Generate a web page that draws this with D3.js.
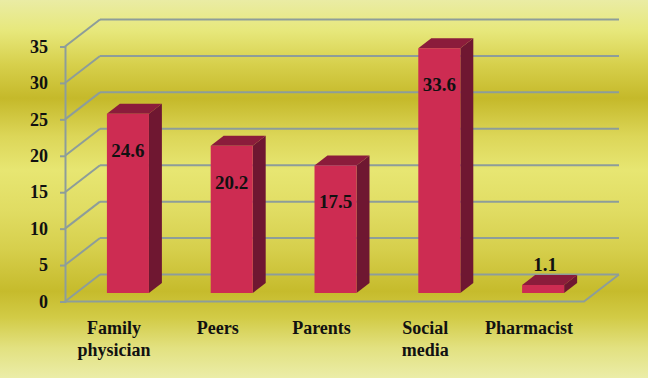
<!DOCTYPE html>
<html>
<head>
<meta charset="utf-8">
<script src="https://cdn.jsdelivr.net/npm/d3@7"></script>
<style>
  html, body { margin: 0; padding: 0; background: #e6e67a; }
  svg { display: block; }
</style>
</head>
<body>
<svg id="chart" width="648" height="378"></svg>
<script>
// ---- data ----
const categories = ["Family physician", "Peers", "Parents", "Social media", "Pharmacist"];
const categoryLines = [["Family", "physician"], ["Peers"], ["Parents"], ["Social", "media"], ["Pharmacist"]];
const values = [24.6, 20.2, 17.5, 33.6, 1.1];
const valueLabels = ["24.6", "20.2", "17.5", "33.6", "1.1"];
const yTicks = [0, 5, 10, 15, 20, 25, 30, 35];

// ---- layout ----
const W = 648, H = 378;
const FONT = '"Liberation Serif"';
const svg = d3.select("#chart");

// 3D depth vector (full depth of the plot box)
const DX = 35, DY = -27;
const barF0 = 0.315, barDepth = 0.37;

const x = d3.scaleBand().domain(categories).range([65, 584]).padding(0);
const y = d3.scaleLinear().domain([0, 35]).range([301.5, 46.5]);
const barW = x.bandwidth() * 0.405;

// background gradient
const defs = svg.append("defs");
const bg = defs.append("linearGradient").attr("id", "bg").attr("x1", 0).attr("y1", 0).attr("x2", 0).attr("y2", 1);
[
  [0.00, "#eaeca4"], [0.08, "#e7e87c"], [0.17, "#d7d04c"], [0.26, "#c5b92a"],
  [0.36, "#dcd658"], [0.45, "#e7e672"], [0.56, "#e0dc62"], [0.66, "#d6cf4c"],
  [0.77, "#c6bb2c"], [0.84, "#d2cb46"], [0.92, "#e2e180"], [1.00, "#ebeda8"]
].forEach(([o, c]) => bg.append("stop").attr("offset", o).attr("stop-color", c));
svg.append("rect").attr("width", W).attr("height", H).attr("fill", "url(#bg)");

const gridColor = "#8d9d9a";
const g = svg.append("g");

// back wall gridlines + left wall diagonals
const x0 = x.range()[0], x1 = x.range()[1];
g.selectAll("line.back").data(yTicks).join("line")
  .attr("x1", x0 + DX).attr("x2", x1 + DX)
  .attr("y1", d => y(d) + DY).attr("y2", d => y(d) + DY)
  .attr("stroke", gridColor).attr("stroke-width", 2);
g.selectAll("line.side").data(yTicks).join("line")
  .attr("x1", x0).attr("x2", x0 + DX)
  .attr("y1", d => y(d)).attr("y2", d => y(d) + DY)
  .attr("stroke", gridColor).attr("stroke-width", 2);

// floor
g.append("path")
  .attr("d", `M${x0},${y(0)} L${x1},${y(0)} L${x1 + DX},${y(0) + DY}`)
  .attr("fill", "none").attr("stroke", gridColor).attr("stroke-width", 2);

// front axis
const axis = d3.axisLeft(y).tickValues(yTicks).tickSize(5).tickPadding(12).tickFormat(d3.format("d"));
const ag = svg.append("g").attr("transform", `translate(${x0},0)`).call(axis);
ag.select(".domain").attr("stroke", gridColor).attr("stroke-width", 2);
ag.selectAll(".tick line").attr("stroke", gridColor).attr("stroke-width", 2);
ag.selectAll(".tick text")
  .style("font-family", FONT).style("font-weight", "bold").style("font-size", "18px")
  .attr("fill", "#111");

// bars
const bdx = DX * barDepth, bdy = DY * barDepth;
const bars = svg.append("g").selectAll("g").data(values).join("g");
bars.each(function (v, i) {
  const gg = d3.select(this);
  const cx = x(categories[i]) + x.bandwidth() / 2 + DX * barF0;
  const l = cx - barW / 2, r = cx + barW / 2;
  const b = y(0) + DY * barF0, t = y(v) + DY * barF0;
  gg.append("path").attr("d", `M${r},${b} L${r + bdx},${b + bdy} L${r + bdx},${t + bdy} L${r},${t} Z`)
    .attr("fill", "#6f1731");
  gg.append("path").attr("d", `M${l},${t} L${l + bdx},${t + bdy} L${r + bdx},${t + bdy} L${r},${t} Z`)
    .attr("fill", "#8b1c3b");
  gg.append("rect").attr("x", l).attr("y", t).attr("width", barW).attr("height", b - t)
    .attr("fill", "#cd2c52");
  const inside = (b - t) > 50;
  gg.append("text")
    .attr("x", cx + (inside ? 0 : 2))
    .attr("y", inside ? t + 43 : t + bdy - 4)
    .attr("text-anchor", "middle")
    .style("font-family", FONT).style("font-weight", "bold").style("font-size", "19px")
    .attr("fill", "#111")
    .text(valueLabels[i]);
});

// category labels
const cl = svg.append("g").selectAll("text").data(categories).join("text")
  .attr("x", d => x(d) + x.bandwidth() / 2 - 3)
  .attr("y", 334)
  .attr("text-anchor", "middle")
  .style("font-family", FONT).style("font-weight", "bold").style("font-size", "18px")
  .attr("fill", "#111");
cl.each(function (d, i) {
  const t = d3.select(this);
  categoryLines[i].forEach((line, k) => {
    t.append("tspan").attr("x", x(d) + x.bandwidth() / 2 - 3).attr("dy", k === 0 ? 0 : 22).text(line);
  });
});
</script>
</body>
</html>
